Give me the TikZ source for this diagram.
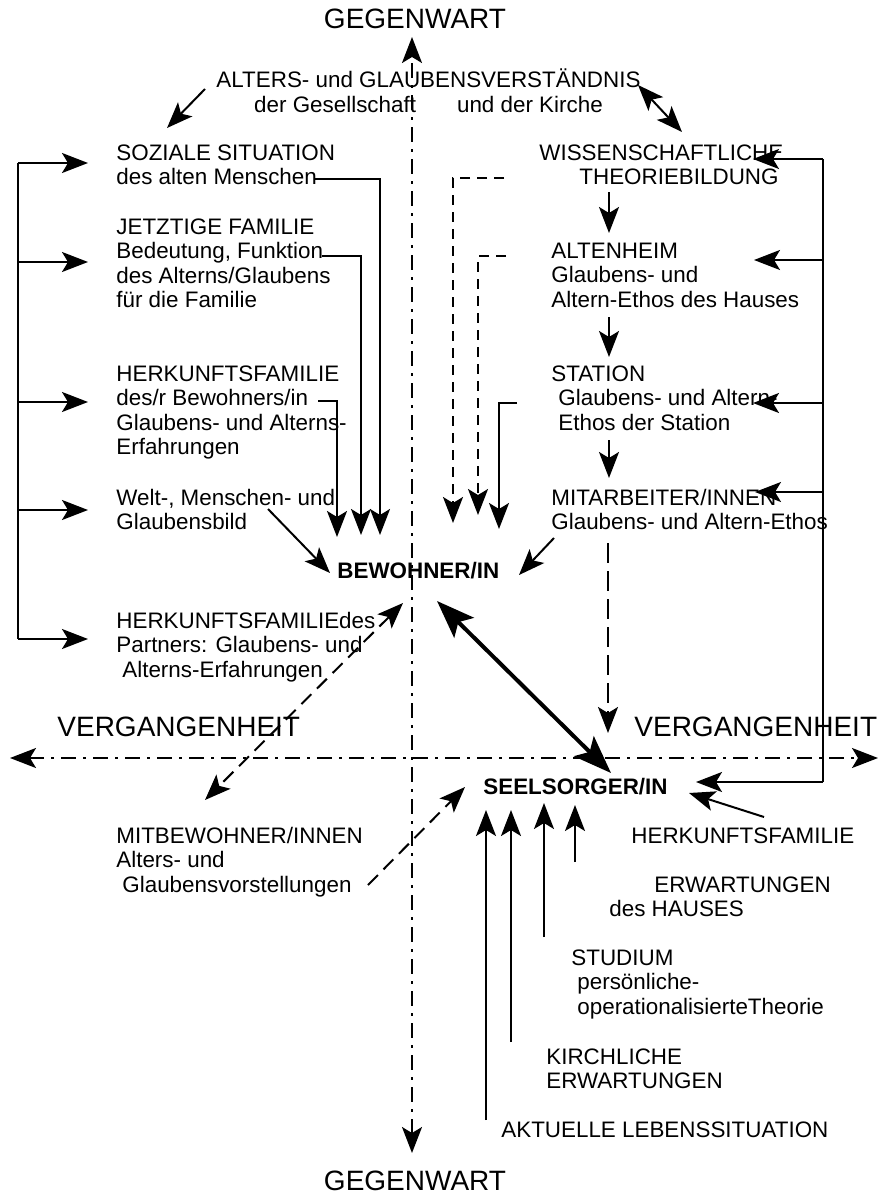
\documentclass[tikz,border=0pt]{standalone}
\usepackage{fontspec}
\setmainfont{Liberation Sans}
\usetikzlibrary{arrows.meta}

\tikzset{
  txt/.style={inner sep=0pt, anchor=base west, align=left, font=\fontsize{11.2}{12.3}\selectfont},
  bold/.style={txt, font=\fontsize{11.2}{12.3}\selectfont\bfseries},
  big/.style={inner sep=0pt, anchor=base, font=\fontsize{14}{16}\selectfont},
  arr/.style={line width=1pt, -{Stealth[length=13pt, width=10pt, inset=3pt]}},
  darr/.style={line width=1pt, {Stealth[length=13pt, width=10pt, inset=3pt]}-{Stealth[length=13pt, width=10pt, inset=3pt]}},
  thickarr/.style={line width=2pt, {Stealth[length=19pt, width=14pt, inset=4pt]}-{Stealth[length=19pt, width=14pt, inset=4pt]}},
  axis/.style={darr, dash pattern=on 7.5pt off 3.5pt on 1.5pt off 3.5pt},
  dsh/.style={dash pattern=on 5pt off 3.5pt},
  mdsh/.style={dash pattern=on 7pt off 4pt},
  ldsh/.style={dash pattern=on 10pt off 4pt}
}

\begin{document}
\begin{tikzpicture}[x=0.5pt, y=-0.5pt]
	\useasboundingbox (0,0) rectangle (886,1193);

	% axes
	\coordinate (axN) at (412,37);
	\coordinate (axS) at (412,1153);
	\coordinate (axW) at (10,758);
	\coordinate (axE) at (878,758);
	\draw[axis] (axS) -- (axN);
	\draw[axis] (axW) -- (axE);
	\node[big] (gtop) at (415,29) {GEGENWART};
	\node[big] (gbot) at (415,1190) {GEGENWART};
	\node[big, anchor=base west] (vergl) at (57,736) {VERGANGENHEIT};
	\node[big, anchor=base west] (vergr) at (634,736) {VERGANGENHEIT};

	% (base of a node with several lines = base of its last line)
	\node[txt, anchor=base, align=center] (alters) at (428.5,112.6) {ALTERS- und GLAUBENSVERSTÄNDNIS\\der Gesellschaft\hspace{20.5pt}und der Kirche};

	% left column
	\node[txt] (sozial) at (116,184.6) {SOZIALE SITUATION\\des alten Menschen};
	\node[txt] (jetzt) at (116,307.8) {JETZTIGE FAMILIE\\Bedeutung, Funktion\\des Alterns/Glaubens\\für die Familie};
	\node[txt] (herk) at (116,454.8) {HERKUNFTSFAMILIE\\des/r Bewohners/in\\Glaubens- und Alterns-\\Erfahrungen};
	\node[txt] (welt) at (116,529.6) {Welt-, Menschen- und\\Glaubensbild};
	\node[txt] (partner) at (116,677.2) {HERKUNFTSFAMILIEdes\\Partners: Glaubens- und\\\hspace*{3pt}Alterns-Erfahrungen};
	\node[txt] (mitbew) at (116,892.2) {MITBEWOHNER/INNEN\\Alters- und\\\hspace*{3pt}Glaubensvorstellungen};

	% right column
	\node[txt] (wiss) at (539,184.6) {WISSENSCHAFTLICHE\\\hspace*{20pt}THEORIEBILDUNG};
	\node[txt] (heim) at (551,307.2) {ALTENHEIM\\Glaubens- und\\Altern-Ethos des Hauses};
	\node[txt] (station) at (551,430.2) {STATION\\\hspace*{3.5pt}Glaubens- und Altern-\\\hspace*{3.5pt}Ethos der Station};
	\node[txt] (mitarb) at (551,529.6) {MITARBEITER/INNEN\\Glaubens- und Altern-Ethos};

	\node[bold] (bew) at (337,578) {BEWOHNER/IN};
	\node[bold] (seel) at (483,794) {SEELSORGER/IN};

	% below the Seelsorger
	\node[txt] (herkr) at (631,843) {HERKUNFTSFAMILIE};
	\node[txt] (erw) at (609,916.6) {\hspace*{22.5pt}ERWARTUNGEN\\des HAUSES};
	\node[txt] (stud) at (571,1014.2) {STUDIUM\\\hspace*{3pt}persönliche-\\\hspace*{3pt}operationalisierteTheorie};
	\node[txt] (kirch) at (546,1088.6) {KIRCHLICHE\\ERWARTUNGEN};
	\node[txt] (aktuell) at (501,1137) {AKTUELLE LEBENSSITUATION};

	% top arrows
	\coordinate (aSW) at (167,128);
	\coordinate (aNE) at (682,132);
	\coordinate (aW) at (205,89);
	\coordinate (aE) at (638,85);
	\draw[arr] (aW) -- (aSW);
	\draw[darr] (aE) -- (aNE);

	% left spine
	\coordinate (spl) at (18,0);
	\foreach \n/\y in {sozial/163, jetzt/262, herk/402, welt/510, partner/639} {
		\coordinate (\n-in) at (88,\y);
		\draw[arr] (spl |- \n-in) -- (\n-in);
	}
	\draw[line width=1pt] (spl |- sozial-in) -- (spl |- partner-in);

	% right spine
	\coordinate (spr) at (823,0);
	\foreach \n/\x/\y in {wiss/753/159, heim/754/260, station/753/403, mitarb/755/492, seel/696/782} {
		\coordinate (\n-in) at (\x,\y);
		\draw[arr] (spr |- \n-in) -- (\n-in);
	}
	\draw[line width=1pt] (spr |- wiss-in) -- (spr |- seel-in);

	% into the Bewohner
	\coordinate (s1) at (315,179);  \coordinate (t1) at (380,535);
	\coordinate (s2) at (322,256);  \coordinate (t2) at (361,535);
	\coordinate (s3) at (318,401);  \coordinate (t3) at (337,537);
	\coordinate (s4) at (268,509);  \coordinate (t4) at (330,573);
	\coordinate (s5) at (504,178);  \coordinate (t5) at (453,523);
	\coordinate (s6) at (506,256);  \coordinate (t6) at (478,515);
	\coordinate (s7) at (517,403);  \coordinate (t7) at (499,529);
	\coordinate (s8) at (554,538);  \coordinate (t8) at (519,575);
	\draw[arr] (s1) -| (t1);
	\draw[arr] (s2) -| (t2);
	\draw[arr] (s3) -| (t3);
	\draw[arr] (s4) -- (t4);
	\draw[arr, dsh] (s5) -| (t5);
	\draw[arr, dsh] (s6) -| (t6);
	\draw[arr] (s7) -| (t7);
	\draw[arr] (s8) -- (t8);

	% chain on the right
	\foreach \n/\a/\b in {c1/192/233, c2/317/357, c3/440/478} {
		\coordinate (\n-s) at (609,\a);
		\coordinate (\n-t) at (609,\b);
		\draw[arr] (\n-s) -- (\n-t);
	}
	\coordinate (d1) at (608,543);  \coordinate (d2) at (608,733);
	\draw[arr, ldsh] (d1) -- (d2);

	% Bewohner <-> Seelsorger
	\coordinate (bw) at (437,601);  \coordinate (sl) at (611,773);
	\draw[thickarr] (bw) -- (sl);
	\coordinate (p1) at (403,603);  \coordinate (p2) at (205,800);
	\draw[darr, mdsh] (p1) -- (p2);
	\coordinate (m1) at (368,885);  \coordinate (m2) at (465,787);
	\draw[arr, mdsh] (m1) -- (m2);
	\coordinate (h1) at (764,817);  \coordinate (h2) at (689,793);
	\draw[arr] (h1) -- (h2);

	% up into the Seelsorger
	\foreach \n/\x/\a/\b in {u1/486/1120/810, u2/511/1042/810, u3/544/937/803, u4/575/862/805} {
		\coordinate (\n-s) at (\x,\a);
		\coordinate (\n-t) at (\x,\b);
		\draw[arr] (\n-s) -- (\n-t);
	}
\end{tikzpicture}
\end{document}
